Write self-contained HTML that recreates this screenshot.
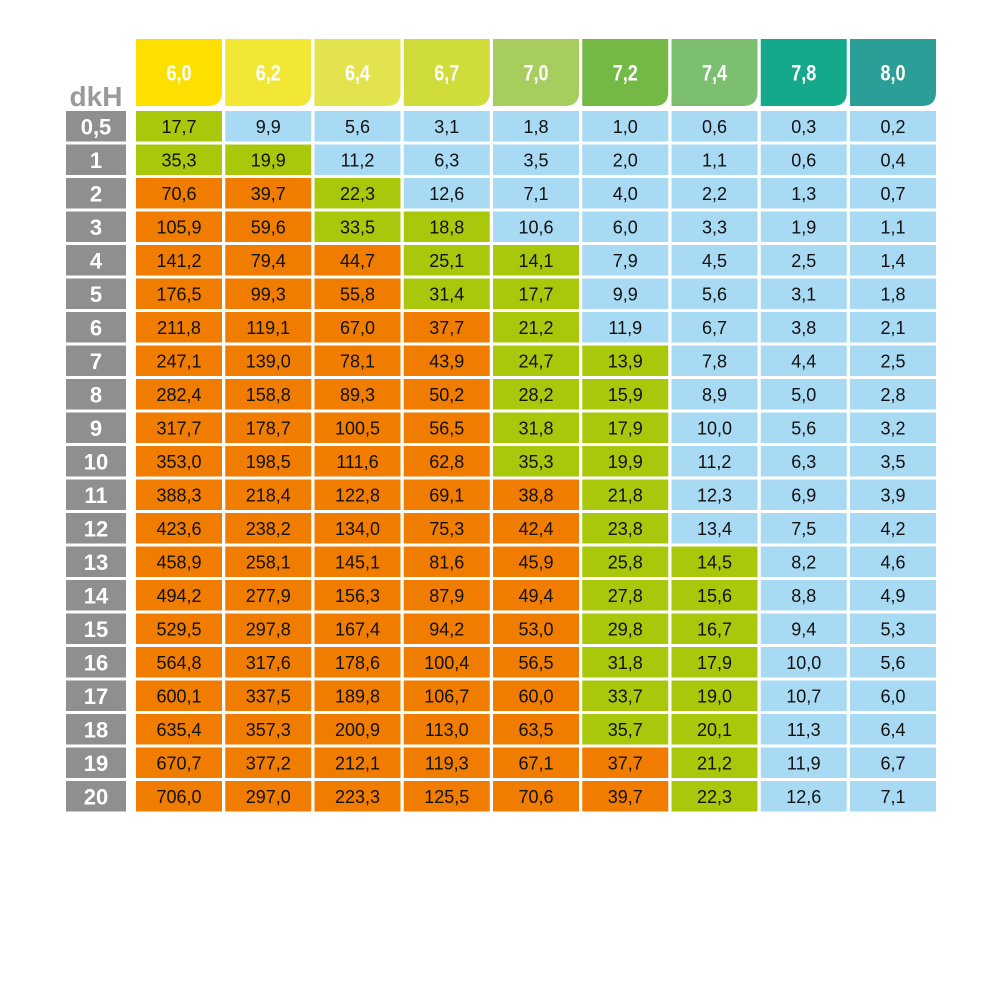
<!DOCTYPE html>
<html><head><meta charset="utf-8"><style>
html,body{margin:0;padding:0;background:#fff;}
svg{display:block;}
text{font-family:"Liberation Sans",Arial,sans-serif;}
.b{font-weight:bold;}
</style></head><body>
<svg id="chart" width="1000" height="998" viewBox="0 0 1000 998">
<text x="96" y="106" text-anchor="middle" font-size="28" class="b" style="font-weight:bold" fill="#9a9a9a">dkH</text>
</svg>
<script>
const phLabels = ["6,0","6,2","6,4","6,7","7,0","7,2","7,4","7,8","8,0"];
const dkhLabels = ["0,5","1","2","3","4","5","6","7","8","9","10","11","12","13","14","15","16","17","18","19","20"];
const headerColors = ["#fde000","#f3e735","#e3e34e","#cfdc3a","#a7cd5f","#74b845","#7cbf71","#13a98a","#2b9e97"];
const rowValues = [
[17.7,9.9,5.6,3.1,1.8,1.0,0.6,0.3,0.2],
[35.3,19.9,11.2,6.3,3.5,2.0,1.1,0.6,0.4],
[70.6,39.7,22.3,12.6,7.1,4.0,2.2,1.3,0.7],
[105.9,59.6,33.5,18.8,10.6,6.0,3.3,1.9,1.1],
[141.2,79.4,44.7,25.1,14.1,7.9,4.5,2.5,1.4],
[176.5,99.3,55.8,31.4,17.7,9.9,5.6,3.1,1.8],
[211.8,119.1,67.0,37.7,21.2,11.9,6.7,3.8,2.1],
[247.1,139.0,78.1,43.9,24.7,13.9,7.8,4.4,2.5],
[282.4,158.8,89.3,50.2,28.2,15.9,8.9,5.0,2.8],
[317.7,178.7,100.5,56.5,31.8,17.9,10.0,5.6,3.2],
[353.0,198.5,111.6,62.8,35.3,19.9,11.2,6.3,3.5],
[388.3,218.4,122.8,69.1,38.8,21.8,12.3,6.9,3.9],
[423.6,238.2,134.0,75.3,42.4,23.8,13.4,7.5,4.2],
[458.9,258.1,145.1,81.6,45.9,25.8,14.5,8.2,4.6],
[494.2,277.9,156.3,87.9,49.4,27.8,15.6,8.8,4.9],
[529.5,297.8,167.4,94.2,53.0,29.8,16.7,9.4,5.3],
[564.8,317.6,178.6,100.4,56.5,31.8,17.9,10.0,5.6],
[600.1,337.5,189.8,106.7,60.0,33.7,19.0,10.7,6.0],
[635.4,357.3,200.9,113.0,63.5,35.7,20.1,11.3,6.4],
[670.7,377.2,212.1,119.3,67.1,37.7,21.2,11.9,6.7],
[706.0,297.0,223.3,125.5,70.6,39.7,22.3,12.6,7.1]
];
const svg = document.getElementById('chart');
const NS = 'http://www.w3.org/2000/svg';
const colX = i => 136 + i * 89.25;
const rowY = j => 111 + j * 33.5;
const CW = 86, RH = 30.5;
function mk(tag, attrs){const e=document.createElementNS(NS,tag);for(const k in attrs)e.setAttribute(k,attrs[k]);svg.appendChild(e);return e;}
function cellColor(v){ if(v>36) return "#f07d00"; if(v>=13.5) return "#a9c80c"; return "#a8daf4"; }
phLabels.forEach((lab,i)=>{
  const x=colX(i), y=39, h=67, r=14;
  const p=mk('path',{d:`M${x},${y} H${x+CW} V${y+h-r} Q${x+CW},${y+h} ${x+CW-r},${y+h} H${x} Z`,fill:headerColors[i]});
  
  
  const t=mk('text',{x:x+CW/2,y:y+h/2+8,'text-anchor':'middle','font-size':'22',fill:'#fff',style:'font-weight:bold',transform:`translate(${x+CW/2},0) scale(0.82,1) translate(${-(x+CW/2)},0)`});
  t.textContent=lab;
  
  
});
dkhLabels.forEach((lab,j)=>{
  const y=rowY(j);
  const r=mk('rect',{x:66,y:y,width:60,height:RH,fill:'#8f8f8f'});
  
  
  const t=mk('text',{x:96,y:y+RH/2+8,'text-anchor':'middle','font-size':'22',style:'font-weight:bold',fill:'#fff'});
  t.textContent=lab;
  
  
  rowValues[j].forEach((v,i)=>{
    const x=colX(i);
    const c=mk('rect',{x:x,y:y,width:CW,height:RH,fill:cellColor(v)});
    
    
    const tt=mk('text',{x:x+CW/2,y:y+RH/2+6.5,'text-anchor':'middle','font-size':'18',fill:'#111'});
    tt.textContent=v.toFixed(1).replace('.',',');
    
    
  });
});
</script>
</body></html>
